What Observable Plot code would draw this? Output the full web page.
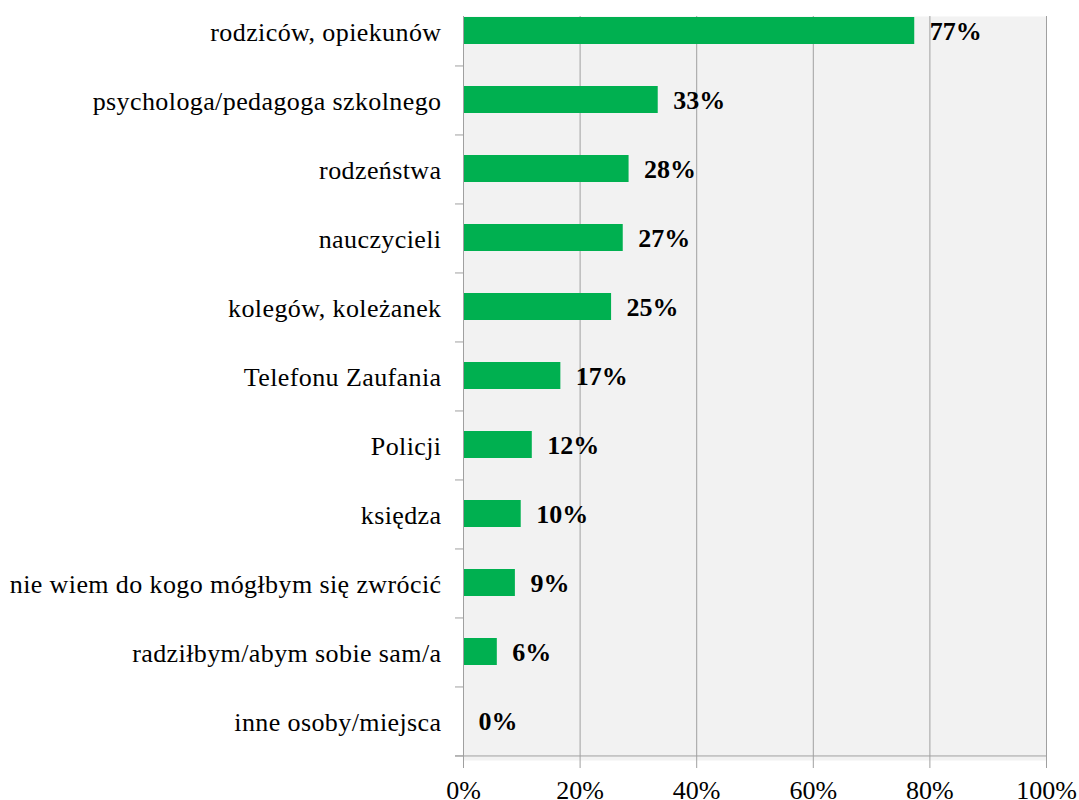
<!DOCTYPE html>
<html>
<head>
<meta charset="utf-8">
<script src="https://cdn.jsdelivr.net/npm/d3@7"></script>
<script src="https://cdn.jsdelivr.net/npm/@observablehq/plot@0.6"></script>
<style>
  html, body { margin: 0; padding: 0; background: #ffffff; }
  #chart svg { display: block; }
  #chart svg text { font-family: "Liberation Serif", "Times New Roman", serif; }
  #chart svg g[aria-label="y-axis tick label"] text { letter-spacing: 0.4px; }
</style>
</head>
<body>
<div id="chart"></div>
<script>
const categories = [
  "rodziców, opiekunów",
  "psychologa/pedagoga szkolnego",
  "rodzeństwa",
  "nauczycieli",
  "kolegów, koleżanek",
  "Telefonu Zaufania",
  "Policji",
  "księdza",
  "nie wiem do kogo mógłbym się zwrócić",
  "radziłbym/abym sobie sam/a",
  "inne osoby/miejsca"
];
const values = [77.4, 33.4, 28.4, 27.4, 25.4, 16.7, 11.8, 9.9, 8.9, 5.8, 0];
const xTicks = [0, 20, 40, 60, 80, 100];

const data = categories.map((c, i) => ({category: c, value: values[i]}));

const W = 1079, H = 800;
const mTop = 16, mBottom = 40, mLeft = 463, mRight = 33;
const yRange = [-9, 760];
const step = (yRange[1] - yRange[0]) / categories.length;
const grid = "#a0a0a0";
const font = "Liberation Serif";

const chart = Plot.plot({
  width: W,
  height: H,
  marginTop: mTop,
  marginBottom: mBottom,
  marginLeft: mLeft,
  marginRight: mRight,
  style: {fontFamily: font, background: "#ffffff", overflow: "visible"},
  x: {domain: [0, 100]},
  y: {domain: categories, range: yRange, paddingInner: 0.61, paddingOuter: 0.305, align: 0.5},
  marks: [
    Plot.frame({fill: "#f2f2f2", stroke: null}),
    Plot.gridX(xTicks.slice(1), {stroke: grid, strokeOpacity: 1, strokeWidth: 1}),
    Plot.barX(data, {x: "value", y: "category", fill: "#00b050", clip: true}),
    Plot.ruleX([0], {stroke: grid, strokeWidth: 1}),
    Plot.ruleY(categories, {y: d => d, dy: step / 2, x1: 0, x2: 0, insetLeft: -8, stroke: grid, strokeWidth: 1}),
    Plot.ruleY(categories.slice(-1), {y: d => d, dy: step / 2, x1: 0, x2: 100, insetLeft: -8, stroke: grid, strokeWidth: 1}),
    Plot.text(data, {
      x: "value", y: "category",
      text: d => Math.round(d.value) + "%",
      textAnchor: "start", dx: 15, dy: 1,
      fontWeight: "bold", fontSize: 26, fill: "#000", clip: true, fontFamily: font
    }),
    Plot.axisX(xTicks, {
      tickSize: 8, tickPadding: 12, stroke: grid,
      tickFormat: d => d + "%", fontSize: 26, fill: "#000", label: null, fontFamily: font
    }),
    Plot.axisY({tickSize: 0, tickPadding: 22, dy: 2, fontSize: 26, fill: "#000", label: null, fontFamily: font})
  ]
});
document.getElementById("chart").appendChild(chart);
</script>
</body>
</html>
